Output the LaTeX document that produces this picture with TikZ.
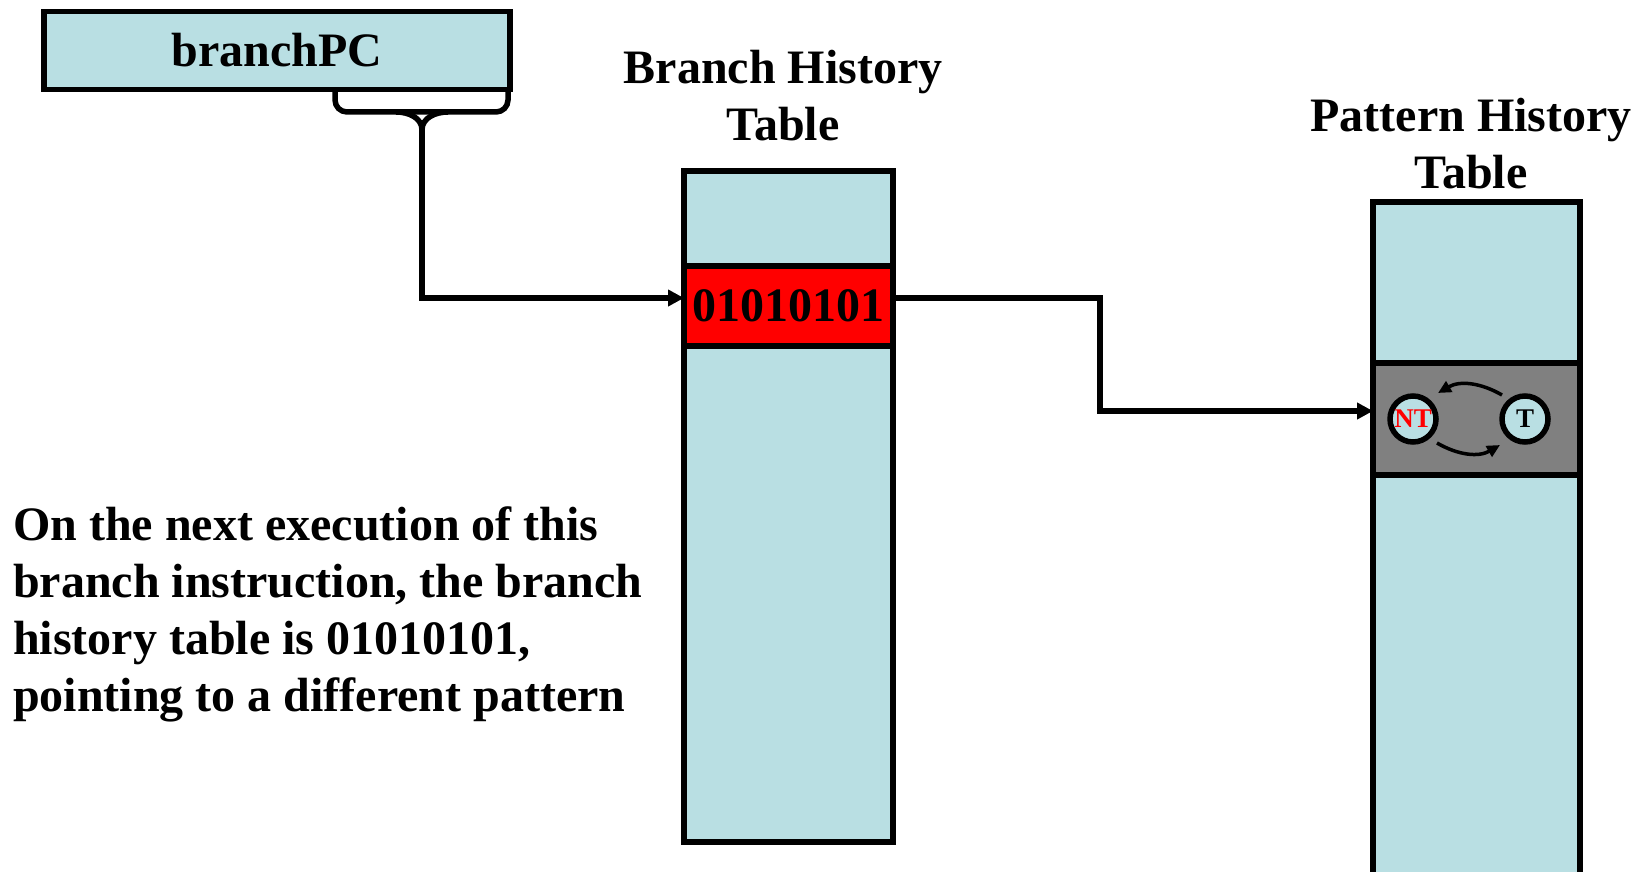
\documentclass[tikz,border=0pt]{standalone}
\usepackage{fontspec}
\setmainfont{Liberation Serif}
\usetikzlibrary{arrows.meta}
\definecolor{lblue}{RGB}{185,223,227}
\definecolor{entryred}{RGB}{255,0,0}
\definecolor{entrygray}{RGB}{128,128,128}
\tikzset{
  box/.style={draw=black, line width=5.5pt, fill=lblue},
  conn/.style={line width=5.5pt, -{Triangle[length=16pt,width=16pt]}},
  big/.style={font=\fontsize{48}{57}\selectfont\bfseries},
  statecirc/.style={circle, draw=black, line width=5.5pt, fill=lblue, minimum size=46pt, inner sep=0pt, font=\fontsize{27}{30}\selectfont\bfseries},
  smallarr/.style={line width=3.5pt, -{Triangle[length=13pt,width=12pt]}}
}
\begin{document}
\begin{tikzpicture}[x=1pt,y=-1pt]
\useasboundingbox (0,0) rectangle (1651,872);
% branchPC
\node[box, big, minimum width=466pt, minimum height=78pt, inner sep=0pt] (pc) at (277,50.5) {branchPC};
% brace
\draw[line width=5.5pt, rounded corners=12pt] (335,89) -- (335,112) -- (508,112) -- (508,89);
\coordinate (stem) at (422,130);
\draw[line width=5.5pt] (396,112) to[out=0,in=90] (stem);
\draw[line width=5.5pt] (448,112) to[out=180,in=90] (stem);
% BHT
\node[big, align=center] (bhtt) at (783,96) {Branch History\\Table};
\node[box, minimum width=209pt, minimum height=671pt, inner sep=0pt] (bht) at (788.5,506.5) {};
\node[draw=black, line width=5.5pt, fill=entryred, minimum width=209pt, minimum height=80pt, inner sep=0pt, big] (bhte) at (788.5,306) {01010101};
% PHT
\node[big, align=center] (phtt) at (1471,144) {Pattern History\\Table};
\node[box, minimum width=207pt, minimum height=690pt, inner sep=0pt] (pht) at (1476.5,547) {};
\node[draw=black, line width=5.5pt, fill=entrygray, minimum width=207pt, minimum height=112pt, inner sep=0pt] (phte) at (1476.5,419) {};
\node[statecirc, text=entryred] (nt) at (1413,419) {NT};
\node[statecirc] (t) at (1525,419) {T};
\draw[smallarr] (1502,395) to[out=150,in=30] (1438,393);
\draw[smallarr] (1437,443) to[out=-30,in=-150] (1500,445);
% connectors
\coordinate (a1) at (684,298);
\draw[conn] (stem) |- (a1);
\coordinate (b0) at (893,298);
\coordinate (b1) at (1100,298);
\coordinate (b2) at (1373,411);
\draw[conn] (b0) -- (b1) |- (b2);
% paragraph
\node[big, align=left, anchor=north west, inner sep=0pt] (txt) at (13,506) {On the next execution of this\\branch instruction, the branch\\history table is 01010101,\\pointing to a different pattern};
\end{tikzpicture}
\end{document}
